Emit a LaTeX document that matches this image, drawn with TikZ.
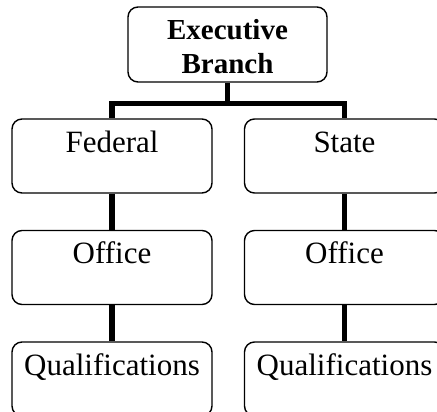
\documentclass[tikz,border=0pt]{standalone}
\usepackage{fontspec}
\setmainfont{Liberation Serif}
\begin{document}
\begin{tikzpicture}[x=1pt,y=1pt,
  box/.style={draw, line width=1.4pt, rounded corners=10pt, minimum width=200pt, minimum height=74pt, inner sep=0pt},
  conn/.style={line width=5.5pt},
  txt/.style={anchor=base, inner sep=0pt, font=\fontsize{31}{36}\selectfont},
  btxt/.style={anchor=base, inner sep=0pt, font=\fontsize{29}{34}\selectfont\bfseries}]
\useasboundingbox (0,0) rectangle (437,-412);
\clip (0,0) rectangle (437,-412);
% boxes
\node[box, minimum width=199pt, minimum height=75pt] (exec) at (227.5,-44.5) {};
\node[box] (fed) at (112,-156) {};
\node[box] (st) at (344.5,-156) {};
\node[box] (fo) at (112,-267.5) {};
\node[box] (so) at (344.5,-267.5) {};
\node[box] (fq) at (112,-379) {};
\node[box] (sq) at (344.5,-379) {};
% texts
\node[btxt] (t1) at ([yshift=-33pt]exec.north) {Executive};
\node[btxt] (t2) at ([yshift=-67pt]exec.north) {Branch};
\node[txt] (t3) at ([yshift=-34pt]fed.north) {Federal};
\node[txt] (t4) at ([yshift=-34pt]st.north) {State};
\node[txt] (t5) at ([yshift=-34pt]fo.north) {Office};
\node[txt] (t6) at ([yshift=-34pt]so.north) {Office};
\node[txt] (t7) at ([yshift=-34pt]fq.north) {Qualifications};
\node[txt] (t8) at ([yshift=-34pt]sq.north) {Qualifications};
% connectors
\coordinate (bar) at ([yshift=-21pt]exec.south);
\draw[conn] (exec.south) -- (bar) -| (fed.north);
\draw[conn] (bar) -| (st.north);
\draw[conn] (fed.south) -- (fo.north);
\draw[conn] (st.south) -- (so.north);
\draw[conn] (fo.south) -- (fq.north);
\draw[conn] (so.south) -- (sq.north);
\end{tikzpicture}
\end{document}
